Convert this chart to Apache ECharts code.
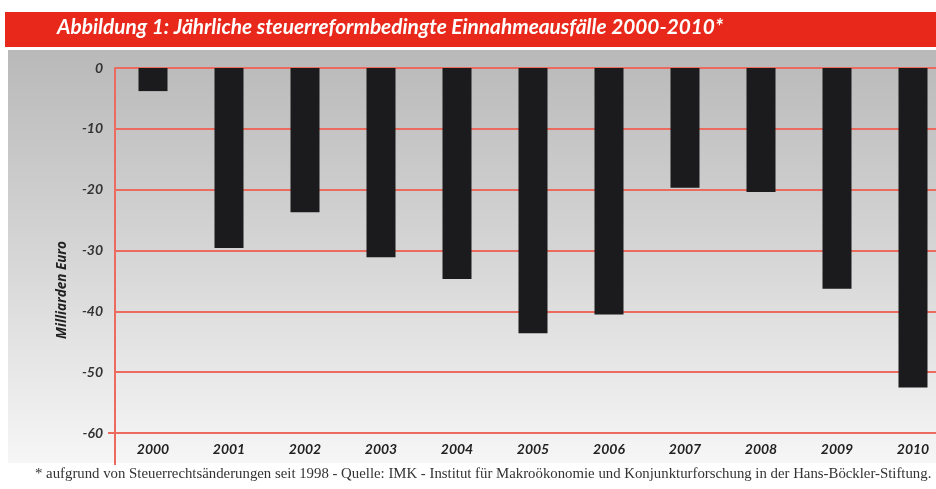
<!DOCTYPE html>
<html>
<head>
<meta charset="utf-8">
<script src="https://cdn.jsdelivr.net/npm/echarts@6/dist/echarts.min.js"></script>
<style>
  html, body { margin: 0; padding: 0; background: #fff; overflow: hidden; }
  /* Abbildung ist rechts beschnitten: Zeichenfläche breiter als das Fenster */
  #main { width: 960px; height: 489px; }
</style>
</head>
<body>
<div id="main"></div>
<script>
// Jahre und Einnahmeausfälle (Mrd. Euro)
var years = ['2000', '2001', '2002', '2003', '2004', '2005', '2006', '2007', '2008', '2009', '2010'];
var losses = [-3.8, -29.6, -23.7, -31.1, -34.7, -43.6, -40.5, -19.7, -20.4, -36.3, -52.5];

var titleText = 'Abbildung 1: Jährliche steuerreformbedingte Einnahmeausfälle 2000-2010*';
var noteText = '* aufgrund von Steuerrechtsänderungen seit 1998 - Quelle: IMK - Institut für Makroökonomie und Konjunkturforschung in der Hans-Böckler-Stiftung.';
var unitText = 'Milliarden Euro';

var red = '#e8281b';
var gridRed = '#ec6b5f';
var labelFont = 'Lato';

var chart = echarts.init(document.getElementById('main'));

chart.setOption({
  animation: false,
  graphic: [
    // grauer Hintergrund
    {
      type: 'rect', z: -10,
      shape: { x: 8, y: 50, width: 952, height: 413 },
      style: {
        fill: new echarts.graphic.LinearGradient(0, 0, 0, 1, [
          { offset: 0, color: '#b9b9b9' },
          { offset: 0.5, color: '#d6d6d6' },
          { offset: 1, color: '#f6f6f6' }
        ])
      }
    },
    // roter Titelbalken
    {
      type: 'rect', z: -9,
      shape: { x: 5, y: 12, width: 955, height: 35 },
      style: { fill: red }
    },
    {
      type: 'text', left: 57, top: 17,
      style: {
        text: titleText,
        fill: '#fff',
        font: 'italic bold 20.8px Lato'
      }
    },
    {
      type: 'text', left: 35, top: 467,
      style: {
        text: noteText,
        fill: '#333',
        font: '14.8px "Liberation Serif"'
      }
    },
    // Einheit an der y-Achse
    {
      type: 'text', x: 62, y: 290, rotation: Math.PI / 2,
      style: {
        text: unitText,
        fill: '#222',
        font: 'italic bold 13.5px "Open Sans"',
        align: 'center',
        verticalAlign: 'middle'
      }
    },
    // Achse läuft unten etwas weiter
    {
      type: 'line', z: 5,
      shape: { x1: 115, y1: 433, x2: 115, y2: 465 },
      style: { stroke: gridRed, lineWidth: 2 }
    },
    {
      type: 'line', z: 5,
      shape: { x1: 108, y1: 433, x2: 115, y2: 433 },
      style: { stroke: gridRed, lineWidth: 2 }
    }
  ],
  grid: {
    left: 115,
    top: 68,
    right: 9,
    bottom: 56
  },
  xAxis: {
    type: 'category',
    data: years,
    position: 'bottom',
    axisLine: { show: false },
    axisTick: { show: false },
    axisLabel: {
      margin: 9,
      color: '#222',
      fontFamily: labelFont,
      fontStyle: 'italic',
      fontWeight: 'bold',
      fontSize: 14
    }
  },
  yAxis: {
    type: 'value',
    min: -60,
    max: 0,
    interval: 10,
    axisLine: { show: true, lineStyle: { color: gridRed, width: 2 } },
    axisTick: { show: false },
    axisLabel: {
      margin: 12,
      color: '#333',
      fontFamily: labelFont,
      fontStyle: 'italic',
      fontWeight: 'bold',
      fontSize: 14
    },
    splitLine: { lineStyle: { color: gridRed, width: 2 } }
  },
  series: [{
    type: 'bar',
    data: losses,
    barWidth: 29,
    itemStyle: { color: '#1b1a1d' }
  }]
});
</script>
</body>
</html>
